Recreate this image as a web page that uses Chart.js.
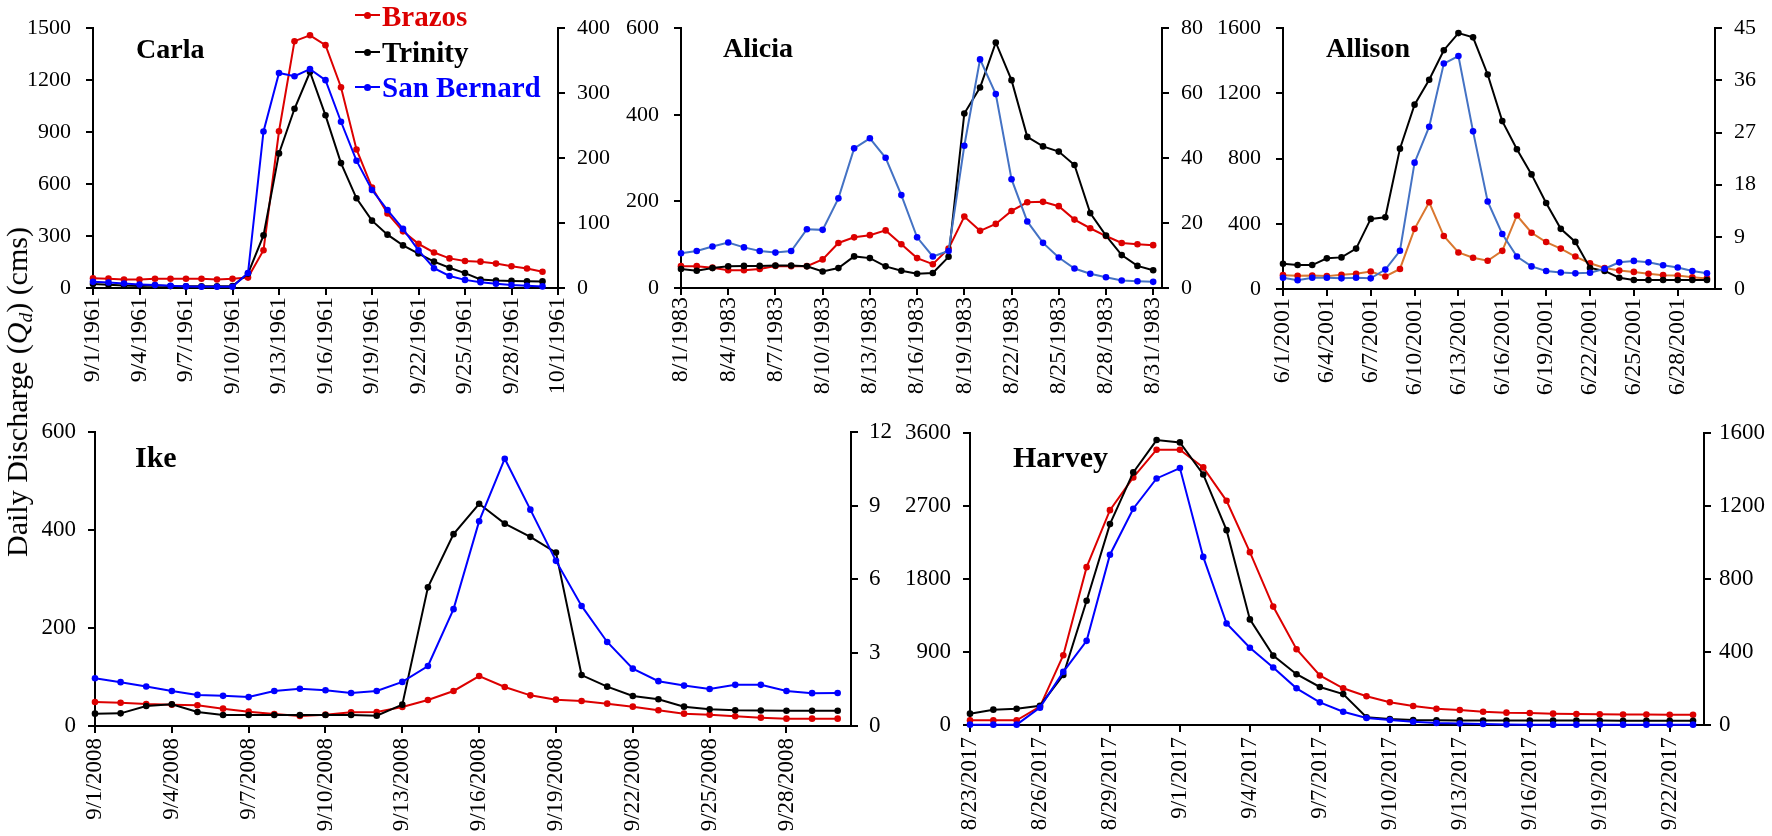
<!DOCTYPE html>
<html>
<head>
<meta charset="utf-8">
<script src="https://cdn.jsdelivr.net/npm/chart.js@4.4.1/dist/chart.umd.min.js"></script>
<style>
  body { margin: 0; background: #fff; width: 1772px; height: 836px; overflow: hidden; position: relative;
         font-family: 'Liberation Serif', 'Times New Roman', serif; }
  canvas { position: absolute; }
  .titre { position: absolute; font-weight: bold; line-height: 1; white-space: nowrap; color: #000; }
  .leg { position: absolute; font-weight: bold; font-size: 29px; line-height: 1; white-space: nowrap; }
  .legLigne { position: absolute; width: 25px; height: 2px; }
  .legPoint { position: absolute; width: 7px; height: 7px; border-radius: 50%; }
  #ylabel { position: absolute; left: 17px; top: 392px; transform: translate(-50%, -50%) rotate(-90deg);
            font-size: 30px; white-space: nowrap; line-height: 1; }
  #ylabel sub { font-size: 0.65em; vertical-align: -0.25em; line-height: 0; }
</style>
</head>
<body>
<canvas id="carla" width="640" height="400" style="left:0px;top:0px"></canvas>
<canvas id="alicia" width="660" height="400" style="left:600px;top:0px"></canvas>
<canvas id="allison" width="572" height="400" style="left:1200px;top:0px"></canvas>
<canvas id="ike" width="930" height="436" style="left:0px;top:400px"></canvas>
<canvas id="harvey" width="892" height="436" style="left:880px;top:400px"></canvas>

<div class="titre" style="left:136px;top:35px;font-size:28px">Carla</div>
<div class="titre" style="left:723px;top:34px;font-size:28px">Alicia</div>
<div class="titre" style="left:1326px;top:34px;font-size:28px">Allison</div>
<div class="titre" style="left:135px;top:442px;font-size:30px">Ike</div>
<div class="titre" style="left:1013px;top:442px;font-size:30px">Harvey</div>

<div class="legLigne" style="left:355px;top:14px;background:#DC0000"></div>
<div class="legPoint" style="left:364px;top:11.5px;background:#DC0000"></div>
<div class="leg" style="left:382px;top:2px;color:#DC0000">Brazos</div>
<div class="legLigne" style="left:355px;top:51px;background:#000"></div>
<div class="legPoint" style="left:364px;top:48.5px;background:#000"></div>
<div class="leg" style="left:382px;top:37.5px;color:#000">Trinity</div>
<div class="legLigne" style="left:355px;top:86px;background:#0000FF"></div>
<div class="legPoint" style="left:364px;top:83.5px;background:#0000FF"></div>
<div class="leg" style="left:382px;top:72.5px;color:#0000FF">San Bernard</div>

<div id="ylabel">Daily Discharge (<i>Q<sub>d</sub></i>) (cms)</div>

<script>
// Carla : 9/1/1961 -> 9/30/1961
const carlaDates = ['9/1/1961', '9/4/1961', '9/7/1961', '9/10/1961', '9/13/1961', '9/16/1961',
  '9/19/1961', '9/22/1961', '9/25/1961', '9/28/1961', '10/1/1961'];
const carlaBrazos = [56, 54, 49, 49, 53, 53, 53, 53, 49, 53, 60, 218, 905, 1425, 1459, 1402, 1159, 800, 580,
  430, 327, 255, 205, 171, 156, 152, 141, 126, 113, 94];
const carlaTrinity = [23, 19, 15, 11, 15, 11, 10, 10, 10, 11, 83, 304, 777, 1035, 1247, 997, 721, 518, 389,
  308, 246, 199, 152, 117, 86, 49, 43, 41, 39, 38];
const carlaSanBernard = [9.5, 8.5, 7, 5.5, 4.5, 3.5, 2.5, 2, 2, 2, 23, 241, 331, 326, 337, 320, 256, 196, 151,
  120, 91, 58, 30.5, 18.5, 12.5, 9, 6.5, 4.5, 3.5, 2.5];

// Alicia : 8/1/1983 -> 8/31/1983
const aliciaDates = ['8/1/1983', '8/4/1983', '8/7/1983', '8/10/1983', '8/13/1983', '8/16/1983',
  '8/19/1983', '8/22/1983', '8/25/1983', '8/28/1983', '8/31/1983'];
const aliciaBrazos = [50.5, 50.5, 47, 41, 41, 44, 51, 50.5, 50.5, 66, 104, 117, 122, 133, 101, 69, 55, 91,
  165, 132, 148, 178, 198, 199, 189, 158, 138, 120, 104, 101, 99];
const aliciaTrinity = [44, 40, 46, 50, 51, 51, 52, 52, 50, 38, 46, 73, 69, 50, 40, 33, 34.5, 72, 403, 463,
  567, 480, 349, 327, 315, 284, 173, 121, 76, 51, 41];
const aliciaSanBernard = [10.7, 11.4, 12.8, 14.0, 12.5, 11.4, 10.9, 11.4, 18.1, 17.9, 27.6, 43.0, 46.1, 40.1,
  28.6, 15.6, 9.7, 11.4, 43.8, 70.4, 59.7, 33.5, 20.5, 13.9, 9.4, 6, 4.4, 3.3, 2.3, 2.1, 1.9];

// Allison : 6/1/2001 -> 6/30/2001
const allisonDates = ['6/1/2001', '6/4/2001', '6/7/2001', '6/10/2001', '6/13/2001', '6/16/2001',
  '6/19/2001', '6/22/2001', '6/25/2001', '6/28/2001'];
const allisonBrazos = [85, 81, 83, 79, 87, 93, 107, 77, 123, 369, 532, 325, 224, 192, 173, 234, 451, 345,
  288, 248, 199, 158, 129, 113, 105, 93, 85, 83, 72, 65];
const allisonTrinity = [155, 147, 147, 188, 194, 248, 430, 440, 861, 1131, 1284, 1465, 1570, 1544, 1316,
  1030, 857, 703, 528, 369, 289, 129, 111, 69, 55, 55, 55, 55, 55, 55];
const allisonSanBernard = [1.95, 1.5, 1.95, 1.95, 1.84, 1.95, 1.84, 3.35, 6.6, 21.8, 28.0, 38.9, 40.2, 27.2,
  15.1, 9.5, 5.6, 3.9, 3.1, 2.85, 2.7, 2.8, 3.5, 4.6, 4.85, 4.6, 4.1, 3.7, 3.1, 2.7];

// Ike : 9/1/2008 -> 9/30/2008
const ikeDates = ['9/1/2008', '9/4/2008', '9/7/2008', '9/10/2008', '9/13/2008', '9/16/2008',
  '9/19/2008', '9/22/2008', '9/25/2008', '9/28/2008'];
const ikeBrazos = [49, 47.6, 45, 43.6, 42.2, 35.4, 29.3, 24.5, 20.4, 23.2, 27.9, 28.6, 38.8, 53.1, 71.5,
  102, 79.7, 62.6, 53.8, 51.1, 45.6, 39.5, 32, 25.2, 23.2, 19.8, 17, 15, 15, 15];
const ikeTrinity = [25.2, 25.8, 40.9, 44.3, 28.6, 22.5, 22.5, 22.5, 22.5, 22.5, 22.5, 21, 43.6, 283, 391.5,
  453.5, 413, 386, 354, 104, 80.3, 61.3, 54.5, 39.5, 34, 32, 31.5, 31, 31, 31];
const ikeSanBernard = [1.95, 1.79, 1.61, 1.43, 1.27, 1.23, 1.18, 1.43, 1.52, 1.46, 1.35, 1.43, 1.80, 2.45,
  4.77, 8.36, 10.91, 8.83, 6.74, 4.90, 3.43, 2.34, 1.83, 1.65, 1.51, 1.68, 1.68, 1.43, 1.34, 1.35];

// Harvey : 8/23/2017 -> 9/23/2017
const harveyDates = ['8/23/2017', '8/26/2017', '8/29/2017', '9/1/2017', '9/4/2017', '9/7/2017',
  '9/10/2017', '9/13/2017', '9/16/2017', '9/19/2017', '9/22/2017'];
const harveyBrazos = [58, 58, 58, 226, 860, 1946, 2649, 3052, 3394, 3394, 3176, 2764, 2131, 1460, 934, 611,
  453, 354, 280, 234, 201, 185, 164, 152, 148, 140, 136, 132, 130, 128, 127, 126];
const harveyTrinity = [140, 189, 201, 238, 617, 1532, 2477, 3114, 3513, 3484, 3089, 2402, 1302, 855, 626,
  469, 381, 95, 74, 62, 58, 57, 56, 55, 55, 54, 54, 54, 53, 53, 53, 53];
const harveySanBernard = [2, 2, 2, 95, 291, 461, 933, 1185, 1351, 1408, 921, 556, 423, 315, 201, 124, 73,
  38, 27, 18, 11, 8, 6, 3, 2, 2, 2, 2, 2, 2, 2, 2];

const ROUGE = '#DC0000';
const BLEU = '#0000FF';
const POLICE = "'Liberation Serif', 'Times New Roman', serif";

function enPoints(valeurs) {
  return valeurs.map((v, i) => ({ x: i, y: v }));
}

// Un panneau = un graphique avec deux axes verticaux (San Bernard sur l'axe de droite)
function creerPanneau(id, p) {
  const ctx = document.getElementById(id).getContext('2d');
  const trait = { color: '#000', width: 2 };
  const grille = { drawOnChartArea: false, color: '#000', lineWidth: 2, tickLength: 7 };
  const police = { family: POLICE, size: p.taille };
  return new Chart(ctx, {
    type: 'line',
    data: {
      datasets: [
        { label: 'San Bernard', data: enPoints(p.sanBernard), yAxisID: 'y2',
          borderColor: p.ligneBleue || BLEU, backgroundColor: BLEU, pointBackgroundColor: BLEU },
        { label: 'Trinity', data: enPoints(p.trinity), yAxisID: 'y',
          borderColor: '#000', backgroundColor: '#000', pointBackgroundColor: '#000' },
        { label: 'Brazos', data: enPoints(p.brazos), yAxisID: 'y',
          borderColor: p.ligneRouge || ROUGE, backgroundColor: ROUGE, pointBackgroundColor: ROUGE }
      ]
    },
    options: {
      responsive: false,
      animation: false,
      layout: { padding: { top: p.haut, left: 0, right: 0, bottom: 0 } },
      plugins: { legend: { display: false }, tooltip: { enabled: false } },
      datasets: { line: { clip: false } },
      elements: {
        line: { tension: 0, borderWidth: 2 },
        point: { radius: 3.3, borderWidth: 0 }
      },
      scales: {
        x: {
          type: 'linear', min: 0, max: p.xMax,
          afterBuildTicks: s => { s.ticks = p.dates.map((d, k) => ({ value: k * 3 })); },
          afterFit: s => { s.height = p.hx; },
          ticks: {
            autoSkip: false, minRotation: 90, maxRotation: 90, padding: p.padX, color: '#000',
            font: { family: POLICE, size: p.tailleX },
            callback: v => p.dates[Math.round(v / 3)]
          },
          grid: grille, border: trait
        },
        y: {
          position: 'left', min: 0, max: p.yMax,
          afterFit: s => { s.width = p.lg; },
          ticks: { stepSize: p.yPas, padding: p.padG, color: '#000', font: police, callback: v => String(v) },
          grid: grille, border: trait
        },
        y2: {
          position: 'right', min: 0, max: p.y2Max,
          afterFit: s => { s.width = p.ld; },
          ticks: { stepSize: p.y2Pas, padding: p.padD, color: '#000', font: police, callback: v => String(v) },
          grid: grille, border: trait
        }
      }
    }
  });
}

function dessiner() {
  creerPanneau('carla', {
    dates: carlaDates, brazos: carlaBrazos, trinity: carlaTrinity, sanBernard: carlaSanBernard,
    xMax: 30, yMax: 1500, yPas: 300, y2Max: 400, y2Pas: 100,
    haut: 22, hx: 112, lg: 93, ld: 82, padX: 2, padG: 15, padD: 12, taille: 22, tailleX: 24
  });
  creerPanneau('alicia', {
    dates: aliciaDates, brazos: aliciaBrazos, trinity: aliciaTrinity, sanBernard: aliciaSanBernard,
    ligneBleue: '#4472C4',
    xMax: 30.56, yMax: 600, yPas: 200, y2Max: 80, y2Pas: 20,
    haut: 24, hx: 112, lg: 81, ld: 98, padX: 2, padG: 15, padD: 12, taille: 22, tailleX: 24
  });
  creerPanneau('allison', {
    dates: allisonDates, brazos: allisonBrazos, trinity: allisonTrinity, sanBernard: allisonSanBernard,
    ligneBleue: '#4472C4', ligneRouge: '#D9772F',
    xMax: 29.55, yMax: 1600, yPas: 400, y2Max: 45, y2Pas: 9,
    haut: 21, hx: 111, lg: 83, ld: 57, padX: 2, padG: 15, padD: 12, taille: 22, tailleX: 24
  });
  creerPanneau('ike', {
    dates: ikeDates, brazos: ikeBrazos, trinity: ikeTrinity, sanBernard: ikeSanBernard,
    xMax: 29.52, yMax: 600, yPas: 200, y2Max: 12, y2Pas: 3,
    haut: 32, hx: 110, lg: 95, ld: 79, padX: 5, padG: 12, padD: 11, taille: 23, tailleX: 23
  });
  creerPanneau('harvey', {
    dates: harveyDates, brazos: harveyBrazos, trinity: harveyTrinity, sanBernard: harveySanBernard,
    xMax: 31.47, yMax: 3600, yPas: 900, y2Max: 1600, y2Pas: 400,
    haut: 33, hx: 111, lg: 90, ld: 68, padX: 5, padG: 12, padD: 8, taille: 23, tailleX: 23
  });
}

// on attend la police avant de dessiner sur les canvas
Promise.all([
  document.fonts.load('22px "Liberation Serif"'),
  document.fonts.load('bold 28px "Liberation Serif"')
]).then(dessiner, dessiner);
</script>
</body>
</html>
